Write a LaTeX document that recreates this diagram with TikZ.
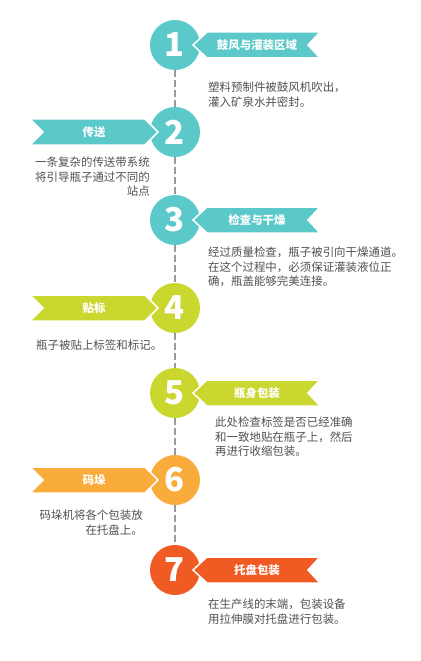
\documentclass[tikz,border=0pt]{standalone}
\usepackage{fontspec}
\newfontfamily\cjk{Noto Sans CJK SC}
\definecolor{tealc}{HTML}{5BC8C9}
\definecolor{limec}{HTML}{C9D72F}
\definecolor{orangec}{HTML}{F9AB3C}
\definecolor{redc}{HTML}{F05A23}
\definecolor{textgray}{HTML}{505050}
\definecolor{linegray}{HTML}{9A9A9A}
\tikzset{
  stepcircle/.style={circle, fill=#1, minimum size=50bp, inner sep=0pt,
    text=white, font=\cjk\bfseries\fontsize{33}{33}\selectfont},
  ribbon/.style={fill=#1, draw=white, line width=1.5bp, line join=miter},
  ribbonlabel/.style={text=white, font=\cjk\bfseries\fontsize{11.5}{12}\selectfont, inner sep=0pt},
  desc/.style={text=textgray, font=\cjk\fontsize{11.5}{14.5}\selectfont, inner sep=0pt},
  dashline/.style={linegray, line width=1.2bp, dash pattern=on 6.5bp off 3.5bp}
}
\begin{document}
\begin{tikzpicture}[x=1bp, y=-1bp]
		\useasboundingbox (0,0) rectangle (420,661);
		
		% step circles
		\node[stepcircle=tealc] (c1) at (175,45) {1};
		\node[stepcircle=tealc] (c2) at (175,132) {2};
		\node[stepcircle=tealc] (c3) at (175,220) {3};
		\node[stepcircle=limec] (c4) at (175,308) {4};
		\node[stepcircle=limec] (c5) at (175,393) {5};
		\node[stepcircle=orangec] (c6) at (175,480) {6};
		\node[stepcircle=redc] (c7) at (175,570) {7};
		
		% dashed time line
		\draw[dashline] (c1) -- (c2);
		\draw[dashline] (c2) -- (c3);
		\draw[dashline] (c3) -- (c4);
		\draw[dashline] (c4) -- (c5);
		\draw[dashline] (c5) -- (c6);
		\draw[dashline] (c6) -- (c7);
		
		% ribbons on the right
		\draw[ribbon=tealc] (193,45) -- (207,32) -- (320,32) -- (308,45) -- (320,58) -- (207,58) -- cycle;
		\draw[ribbon=tealc] (193,220) -- (207,207) -- (320,207) -- (308,220) -- (320,233) -- (207,233) -- cycle;
		\draw[ribbon=limec] (193,393) -- (207,380) -- (320,380) -- (308,393) -- (320,406) -- (207,406) -- cycle;
		\draw[ribbon=redc] (193,570) -- (207,557) -- (320,557) -- (308,570) -- (320,583) -- (207,583) -- cycle;
		
		% ribbons on the left
		\draw[ribbon=tealc] (30,119) -- (145,119) -- (158,132) -- (145,145) -- (30,145) -- (43,132) -- cycle;
		\draw[ribbon=limec] (30,295) -- (145,295) -- (158,308) -- (145,321) -- (30,321) -- (43,308) -- cycle;
		\draw[ribbon=orangec] (30,467) -- (145,467) -- (158,480) -- (145,493) -- (30,493) -- (43,480) -- cycle;
		
		% ribbon labels
		\node[ribbonlabel] (l1) at (257,45) {鼓风与灌装区域};
		\node[ribbonlabel] (l2) at (94,132) {传送};
		\node[ribbonlabel] (l3) at (257,220) {检查与干燥};
		\node[ribbonlabel] (l4) at (94,308) {贴标};
		\node[ribbonlabel] (l5) at (257,393) {瓶身包装};
		\node[ribbonlabel] (l6) at (94,480) {码垛};
		\node[ribbonlabel] (l7) at (257,570) {托盘包装};
		
		% descriptions
		\node[desc, anchor=north west, align=left] (d1) at (208,82) {塑料预制件被鼓风机吹出，\\灌入矿泉水并密封。};
		\node[desc, anchor=north east, align=right] (d2) at (150,157) {一条复杂的传送带系统\\将引导瓶子通过不同的\\站点};
		\node[desc, anchor=north west, align=left] (d3) at (208,247) {经过质量检查，瓶子被引向干燥通道。\\在这个过程中，必须保证灌装液位正\\确，瓶盖能够完美连接。};
		\node[desc, anchor=north west, align=left] (d4) at (36,340) {瓶子被贴上标签和标记。};
		\node[desc, anchor=north west, align=left] (d5) at (215,417) {此处检查标签是否已经准确\\和一致地贴在瓶子上，然后\\再进行收缩包装。};
		\node[desc, anchor=north east, align=right] (d6) at (143,510) {码垛机将各个包装放\\在托盘上。};
		\node[desc, anchor=north west, align=left] (d7) at (208,599) {在生产线的末端，包装设备\\用拉伸膜对托盘进行包装。};
		
		\end{tikzpicture}
\end{document}
